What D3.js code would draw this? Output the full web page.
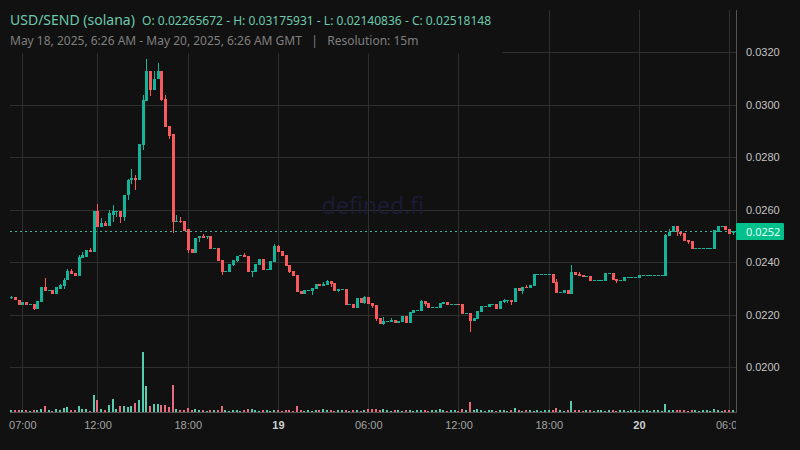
<!DOCTYPE html>
<html lang="en">
<head>
<meta charset="UTF-8"/>
<title>USD/SEND (solana)</title>
<script src="https://d3js.org/d3.v7.min.js"></script>
<style>
    html, body { margin: 0; padding: 0; background: #111111; }
    svg { display: block; font-family: "Noto Sans", sans-serif; }
    .axis-x text { fill: #a3a3a3; font-size: 11px; }
    .axis-y text { fill: #c4c4c4; font-size: 11px; }
</style>
</head>
<body>
<div id="chart"></div>
<script>
// prices, in units of 0.00001 USD (one 15 minute bar each)
const toPrice = v => v / 1e5;

const opens = [
2263,2266,2257,2239,2247,2239,2243,2224,2247,2304,
2289,2293,2281,2300,2308,2331,2365,2361,2346,2418,
2422,2445,2441,2594,2536,2548,2540,2582,2590,2597,
2571,2655,2712,2723,2715,2845,3016,3127,3055,3097,
3127,3024,2918,2887,2555,2559,2559,2525,2449,2434,
2491,2502,2498,2500,2451,2455,2409,2363,2363,2390,
2405,2424,2428,2424,2363,2363,2390,2413,2371,2371,
2401,2462,2443,2428,2390,2367,2352,2291,2279,2291,
2291,2298,2317,2310,2314,2329,2321,2291,2295,2298,
2237,2241,2226,2264,2245,2268,2245,2237,2188,2165,
2173,2173,2180,2169,2173,2196,2169,2207,2215,2215,
2253,2245,2226,2226,2226,2241,2249,2237,2237,2241,
2241,2203,2207,2176,2184,2211,2230,2230,2237,2241,
2222,2249,2253,2257,2249,2302,2291,2306,2302,2310,
2352,2352,2352,2352,2356,2325,2283,2283,2295,2279,
2363,2356,2352,2344,2348,2329,2329,2329,2329,2356,
2359,2336,2329,2329,2340,2340,2340,2340,2348,2348,
2348,2348,2348,2348,2348,2500,2516,2538,2516,2512,
2485,2481,2451,2451,2451,2451,2451,2451,2516,2535,
2538,2527,2512].map(toPrice);

const highs = [
2270,2266,2257,2247,2247,2243,2243,2251,2304,2342,
2293,2293,2304,2319,2342,2373,2373,2361,2426,2441,
2445,2456,2597,2624,2567,2556,2601,2620,2597,2597,
2658,2719,2757,2731,2849,3039,3176,3127,3127,3161,
3127,3036,2918,2887,2582,2571,2559,2525,2449,2494,
2502,2506,2502,2500,2455,2455,2409,2367,2394,2409,
2424,2428,2436,2424,2367,2394,2413,2413,2375,2405,
2470,2466,2443,2428,2390,2367,2352,2291,2295,2295,
2302,2317,2317,2325,2333,2329,2321,2298,2298,2298,
2241,2241,2264,2264,2272,2268,2245,2237,2188,2192,
2176,2188,2180,2176,2196,2196,2211,2218,2218,2257,
2253,2245,2230,2230,2245,2249,2249,2241,2241,2241,
2241,2207,2207,2188,2215,2234,2234,2241,2241,2241,
2253,2260,2257,2257,2302,2302,2306,2314,2314,2356,
2356,2356,2356,2356,2356,2337,2287,2295,2295,2390,
2363,2363,2352,2348,2348,2333,2333,2333,2359,2359,
2359,2336,2333,2344,2344,2344,2344,2352,2352,2352,
2352,2352,2352,2352,2508,2527,2538,2538,2516,2512,
2485,2481,2455,2455,2455,2455,2455,2523,2538,2538,
2538,2527,2518].map(toPrice);

const lows = [
2262,2256,2239,2239,2239,2239,2220,2224,2247,2289,
2289,2281,2281,2300,2300,2331,2357,2346,2346,2418,
2422,2441,2441,2536,2536,2540,2540,2555,2571,2548,
2559,2639,2700,2674,2715,2826,3016,3032,3055,3097,
3016,2914,2868,2510,2552,2548,2521,2434,2434,2434,
2479,2494,2487,2451,2451,2405,2352,2363,2363,2386,
2401,2424,2420,2363,2344,2363,2390,2371,2371,2371,
2401,2439,2424,2386,2359,2348,2287,2279,2279,2291,
2275,2298,2310,2310,2314,2306,2291,2287,2295,2237,
2237,2226,2226,2245,2241,2241,2226,2176,2165,2161,
2173,2173,2169,2169,2173,2169,2169,2207,2215,2215,
2234,2226,2226,2226,2226,2241,2237,2237,2237,2237,
2203,2203,2135,2176,2184,2211,2230,2230,2237,2222,
2222,2245,2245,2237,2249,2291,2279,2302,2302,2310,
2352,2352,2352,2352,2321,2283,2283,2283,2279,2279,
2352,2348,2344,2344,2329,2329,2329,2329,2329,2356,
2333,2321,2329,2329,2340,2340,2340,2340,2348,2348,
2348,2348,2348,2348,2348,2500,2516,2500,2500,2481,
2470,2451,2451,2451,2451,2451,2451,2451,2516,2535,
2523,2508,2504].map(toPrice);

const closes = [
2266,2256,2239,2247,2239,2243,2224,2251,2304,2289,
2293,2281,2304,2312,2334,2365,2357,2346,2422,2426,
2445,2441,2594,2536,2548,2540,2586,2594,2597,2571,
2658,2715,2723,2715,2849,3020,3127,3055,3100,3127,
3020,2914,2883,2555,2559,2555,2521,2445,2434,2494,
2502,2494,2502,2451,2455,2405,2363,2367,2394,2409,
2424,2428,2420,2363,2367,2394,2413,2371,2375,2405,
2462,2439,2424,2386,2363,2348,2287,2279,2295,2295,
2302,2317,2310,2317,2329,2317,2291,2298,2298,2237,
2241,2226,2264,2245,2268,2241,2234,2184,2165,2176,
2176,2180,2169,2176,2196,2169,2211,2218,2218,2253,
2241,2226,2230,2230,2245,2249,2237,2241,2241,2237,
2203,2207,2176,2188,2215,2234,2234,2241,2241,2222,
2253,2257,2257,2249,2302,2291,2306,2302,2314,2356,
2356,2356,2356,2356,2321,2283,2287,2295,2279,2363,
2352,2348,2344,2348,2329,2333,2333,2333,2359,2359,
2333,2329,2333,2344,2344,2344,2344,2352,2352,2352,
2352,2352,2352,2352,2504,2516,2538,2516,2508,2481,
2477,2451,2455,2455,2455,2455,2455,2523,2538,2538,
2523,2508,2518].map(toPrice);

// relative volume, no scale is shown on the chart
const volumes = [
2,2,2,2,2,1,2,2,3,6,
2,1,3,2,4,5,2,2,6,3,
3,1,17,12,3,2,7,13,3,6,
6,5,6,9,12,60,26,6,8,8,
7,7,5,27,3,2,2,4,2,3,
2,2,1,2,2,2,6,2,1,2,
2,1,2,3,3,2,1,2,2,1,
2,2,1,2,2,1,6,2,1,2,
1,2,2,3,2,2,1,2,2,2,
1,2,2,1,2,3,3,3,2,3,
2,1,2,2,1,2,2,1,2,2,
2,1,2,2,3,2,1,2,2,1,
3,2,10,2,3,2,1,2,2,1,
2,2,1,2,4,2,1,2,2,1,
2,1,2,2,2,4,2,1,2,11,
2,2,1,2,2,1,2,2,1,2,
2,1,2,2,1,2,2,1,2,2,
1,2,2,1,8,2,2,2,2,2,
1,2,2,1,2,2,1,3,2,1,
2,2,2];

const startTime = new Date("2025-05-18T06:15:00Z");
const endTime = new Date("2025-05-20T06:15:00Z");

const priceTicks = [0.0200, 0.0220, 0.0240, 0.0260, 0.0280, 0.0300, 0.0320];
const timeTicks = ["2025-05-18T07:00Z", "2025-05-18T12:00Z", "2025-05-18T18:00Z", "2025-05-19T00:00Z",
    "2025-05-19T06:00Z", "2025-05-19T12:00Z", "2025-05-19T18:00Z", "2025-05-20T00:00Z", "2025-05-20T06:00Z"].map(d => new Date(d));
const timeLabels = ["07:00", "12:00", "18:00", "19", "06:00", "12:00", "18:00", "20", "06:00"];

const w = 800, h = 450;
const plotRight = 736, plotBottom = 412, plotTop = 10, plotLeft = 10;
const green = "#14b39a", red = "#f85a5e";
const bg = "#111111";

const svg = d3.select("#chart").append("svg").attr("width", w).attr("height", h);
svg.append("rect").attr("width", w).attr("height", h).attr("fill", bg);

const x = d3.scaleUtc().domain([startTime, endTime]).range([11, 733]);
const y = d3.scaleLinear().domain([0.02, 0.032]).range([367.3, 52.3]);
const yVol = d3.scaleLinear().domain([0, 60]).range([plotBottom, plotBottom - 60]);
const barX = i => Math.round(x(d3.utcMinute.offset(startTime, 15 * i)));
const indices = d3.range(closes.length);

// grid
const gridY = svg.append("g").attr("transform", `translate(${plotRight},0)`)
    .call(d3.axisLeft(y).tickValues(priceTicks).tickSize(plotRight - plotLeft).tickFormat(""));
const gridX = svg.append("g").attr("transform", `translate(0,${plotBottom})`)
    .call(d3.axisTop(x).tickValues(timeTicks).tickSize(plotBottom - plotTop).tickFormat(""));
[gridY, gridX].forEach(g => {
    g.select(".domain").remove();
    g.selectAll("line").attr("stroke", "#2f2f2f").attr("shape-rendering", "crispEdges");
});

// volume
svg.append("g").selectAll("rect").data(indices).enter().append("rect")
    .attr("x", i => barX(i) - 1)
    .attr("width", 2)
    .attr("y", i => yVol(volumes[i]))
    .attr("height", i => plotBottom - yVol(volumes[i]))
    .attr("fill", i => closes[i] >= opens[i] ? "#55cdb0" : "#ea6a80")
    .attr("shape-rendering", "crispEdges");

// candles
const candles = svg.append("g").attr("shape-rendering", "crispEdges");
candles.selectAll(".wick").data(indices).enter().append("rect")
    .attr("class", "wick")
    .attr("x", i => barX(i))
    .attr("width", 1)
    .attr("y", i => Math.round(y(highs[i])))
    .attr("height", i => Math.max(1, Math.round(y(lows[i])) - Math.round(y(highs[i]))))
    .attr("fill", i => closes[i] >= opens[i] ? green : red);
candles.selectAll(".body").data(indices).enter().append("rect")
    .attr("class", "body")
    .attr("x", i => barX(i) - 1)
    .attr("width", 3)
    .attr("y", i => Math.round(y(Math.max(opens[i], closes[i]))))
    .attr("height", i => Math.max(1, Math.round(y(Math.min(opens[i], closes[i]))) - Math.round(y(Math.max(opens[i], closes[i])))))
    .attr("fill", i => closes[i] >= opens[i] ? green : red);

// last price line
const lastPrice = closes[closes.length - 1];
const lastY = Math.round(y(lastPrice)) + 0.5;
svg.append("line")
    .attr("x1", plotLeft).attr("x2", plotRight).attr("y1", lastY).attr("y2", lastY)
    .attr("stroke", "#3fb79c").attr("stroke-width", 1).attr("stroke-dasharray", "2,3");

// watermark
svg.append("text").attr("x", 373).attr("y", 214).attr("text-anchor", "middle")
    .attr("font-size", 23).attr("fill", "#1a1c33").text("defined.fi");

// axis lines
svg.append("line").attr("x1", plotRight + 0.5).attr("x2", plotRight + 0.5).attr("y1", plotTop).attr("y2", plotBottom + 1).attr("stroke", "#555");
svg.append("line").attr("x1", plotLeft).attr("x2", plotRight).attr("y1", plotBottom + 0.5).attr("y2", plotBottom + 0.5).attr("stroke", "#555");

// price axis
const axisY = svg.append("g").attr("class", "axis-y").attr("transform", `translate(${plotRight},0)`)
    .call(d3.axisRight(y).tickValues(priceTicks).tickFormat(d3.format(".4f")).tickSize(0).tickPadding(10));
axisY.select(".domain").remove();
axisY.selectAll("text").attr("font-family", null);

// time axis, the last label is cut off at the plot edge
svg.append("clipPath").attr("id", "time-clip").append("rect").attr("width", plotRight).attr("height", h);
const axisX = svg.append("g").attr("class", "axis-x").attr("clip-path", "url(#time-clip)")
    .attr("transform", `translate(0,${plotBottom})`)
    .call(d3.axisBottom(x).tickValues(timeTicks).tickFormat((d, i) => timeLabels[i]).tickSize(0).tickPadding(9));
axisX.select(".domain").remove();
axisX.selectAll("text").attr("font-family", null)
    .attr("font-weight", (d, i) => timeLabels[i].length < 3 ? "bold" : null)
    .style("fill", (d, i) => timeLabels[i].length < 3 ? "#d0d0d0" : null);

// last price tag
svg.append("rect").attr("x", plotRight).attr("y", lastY - 8.5).attr("width", 48).attr("height", 17)
    .attr("rx", 1).attr("fill", "#00c08b");
svg.append("text").attr("x", 746).attr("y", lastY + 4).attr("font-size", 11).attr("fill", "#eafff8")
    .text(d3.format(".4f")(lastPrice));

// header sits on a box that hides the grid behind it
svg.append("rect").attr("width", 502).attr("height", 53.5).attr("fill", bg);
svg.append("text").attr("x", 10).attr("y", 25).attr("font-size", 14).attr("fill", "#6ccaae").text("USD/SEND (solana)");
svg.append("text").attr("x", 142).attr("y", 25).attr("font-size", 12.05).attr("fill", "#6ccaae")
    .text("O: 0.02265672 - H: 0.03175931 - L: 0.02140836 - C: 0.02518148");
svg.append("text").attr("x", 10).attr("y", 45).attr("font-size", 12).attr("fill", "#7f7f7f")
    .style("white-space", "pre")
    .text("May 18, 2025, 6:26 AM - May 20, 2025, 6:26 AM GMT   |   Resolution: 15m");
</script>
</body>
</html>
